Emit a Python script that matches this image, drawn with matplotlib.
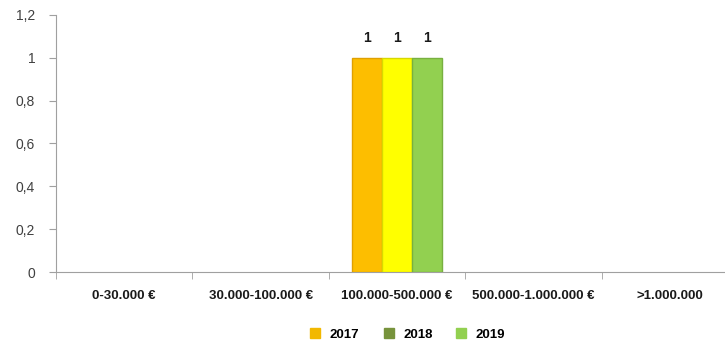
import numpy as np
import matplotlib.pyplot as plt
from matplotlib.lines import Line2D

# categories and counts per year
categories = ['0-30.000 €', '30.000-100.000 €', '100.000-500.000 €',
              '500.000-1.000.000 €', '>1.000.000']
years = ['2017', '2018', '2019']
counts_2017 = [0, 0, 1, 0, 0]
counts_2018 = [0, 0, 1, 0, 0]
counts_2019 = [0, 0, 1, 0, 0]

bar_colors = ['#FDBE00', '#FFFF00', '#92D050']
bar_edges = ['#E0A000', '#D8D800', '#78B040']
legend_colors = ['#F2B800', '#77933C', '#92D050']

plt.rcParams['font.family'] = ['Liberation Sans', 'DejaVu Sans']

fig = plt.figure(figsize=(7.25, 3.44), dpi=100)
ax = fig.add_axes([0.0772, 0.2093, 0.9407, 0.7471])

x = np.arange(len(categories))
w = 0.22
series = [counts_2017, counts_2018, counts_2019]
for i, vals in enumerate(series):
    pos = x + (i - 1) * w
    bars = ax.bar(pos, vals, width=w, color=bar_colors[i],
                  edgecolor=bar_edges[i], linewidth=1.0, zorder=3)
    for b, v in zip(bars, vals):
        if v > 0:
            ax.annotate(f'{v}', (b.get_x() + b.get_width() / 2, v),
                        xytext=(0, 9), textcoords='offset points',
                        ha='center', va='bottom', fontsize=10,
                        fontweight='bold', color='#1a1a1a')
        else:
            b.set_linewidth(0)

ax.set_xlim(-0.5, len(categories) - 0.5)
ax.set_ylim(0, 1.2)
ax.set_yticks(np.arange(0, 1.21, 0.2))
ax.set_yticklabels(['0', '0,2', '0,4', '0,6', '0,8', '1', '1,2'])
ax.tick_params(axis='y', labelsize=10, colors='#404040', length=5,
               color='#A0A0A0', pad=10)

# category labels centred, tick marks at category boundaries
ax.set_xticks(x)
ax.set_xticklabels(categories, fontsize=9.5, fontweight='bold', color='#1a1a1a')
ax.tick_params(axis='x', length=0, pad=13)
ax.set_xticks(np.arange(-0.5, len(categories), 1), minor=True)
ax.tick_params(axis='x', which='minor', length=5, color='#A0A0A0')

for side in ['top', 'right']:
    ax.spines[side].set_visible(False)
for side in ['left', 'bottom']:
    ax.spines[side].set_color('#A0A0A0')

handles = [Line2D([], [], marker='s', linestyle='none', markersize=7,
                  markerfacecolor=c, markeredgecolor=c) for c in legend_colors]
fig.legend(handles, years, loc='center', bbox_to_anchor=(0.557, 0.027),
           ncol=3, frameon=False, handletextpad=0.1, columnspacing=1.2,
           prop={'weight': 'bold', 'size': 9.5})

fig.savefig('out.png', dpi=100)
